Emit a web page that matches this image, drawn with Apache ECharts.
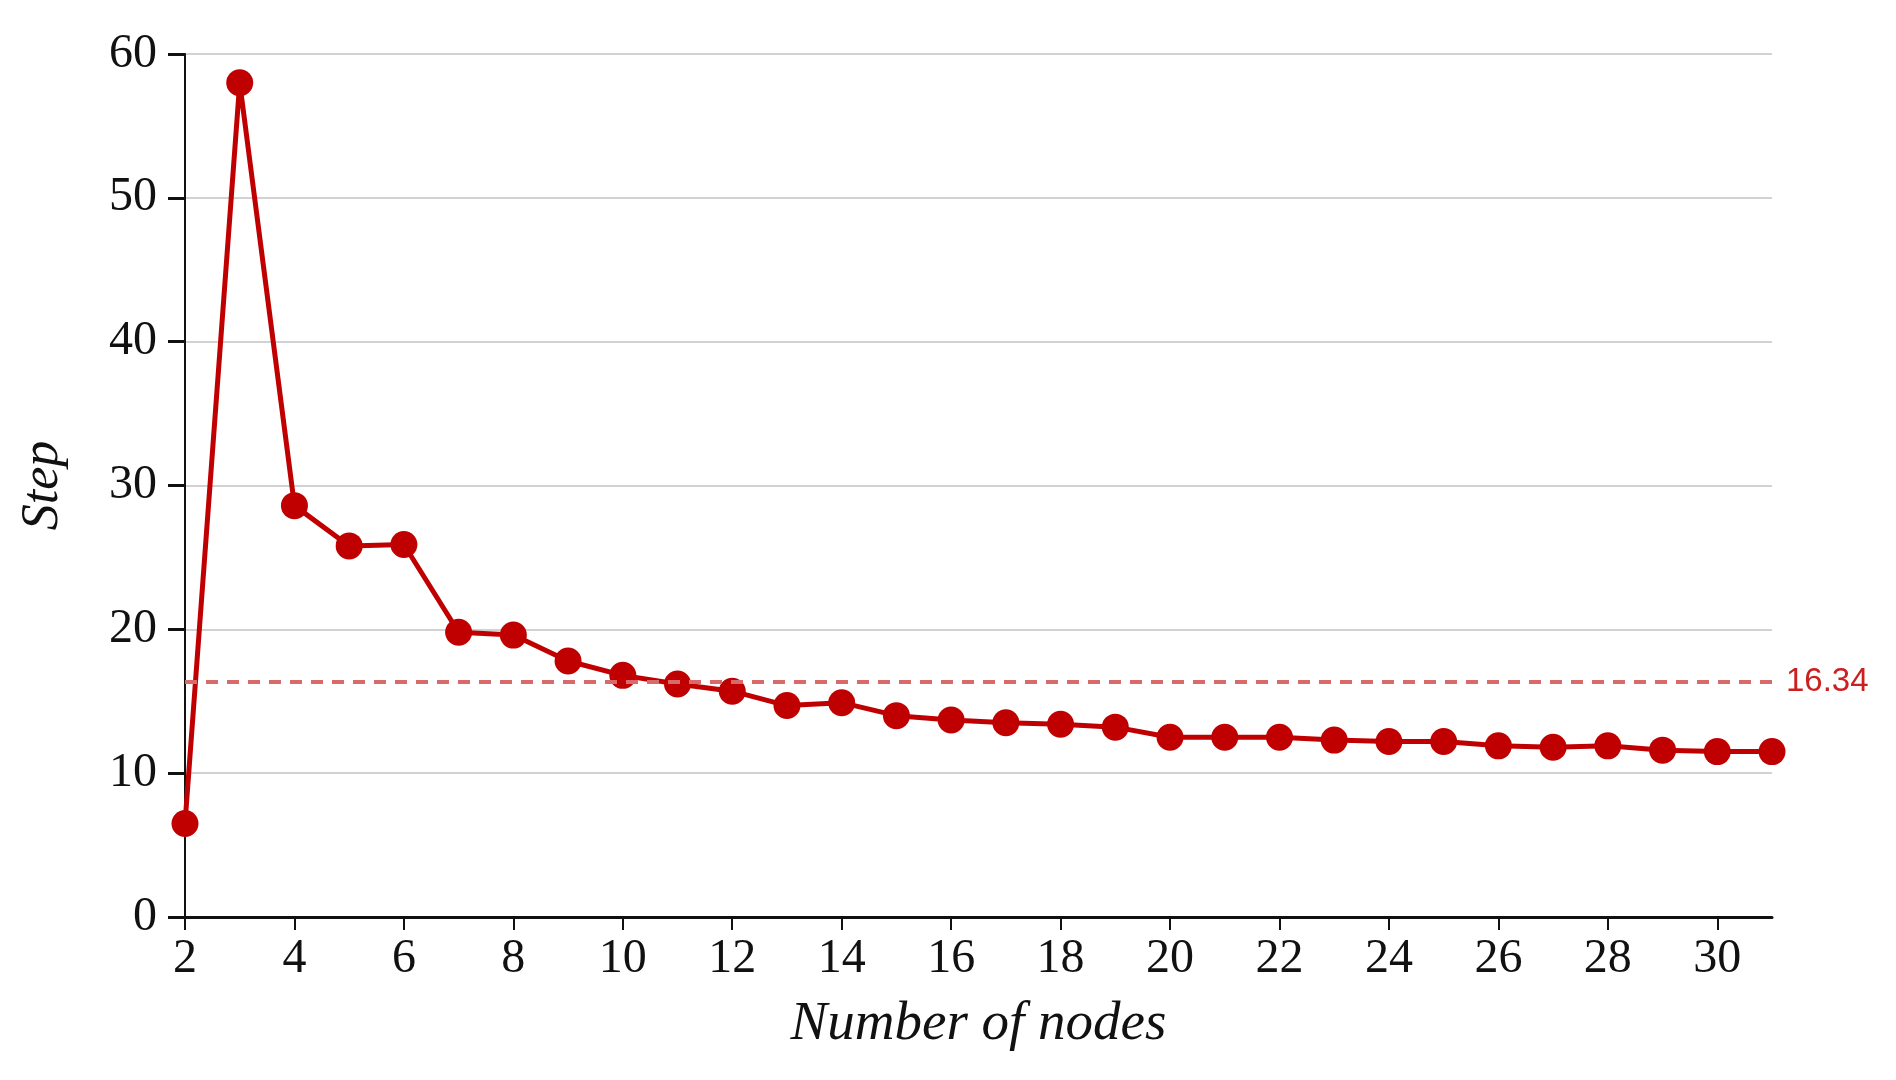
<!DOCTYPE html>
<html>
<head>
<meta charset="utf-8">
<script src="https://cdn.jsdelivr.net/npm/echarts@6/dist/echarts.min.js"></script>
<style>html,body{margin:0;padding:0;background:#fff;}#c{width:1896px;height:1080px;}</style>
</head>
<body>
<div id="c"></div>
<script>
const nodes = [2,3,4,5,6,7,8,9,10,11,12,13,14,15,16,17,18,19,20,21,22,23,24,25,26,27,28,29,30,31];
const steps = [6.5,58.0,28.6,25.8,25.9,19.8,19.6,17.8,16.8,16.2,15.7,14.7,14.9,14.0,13.7,13.5,13.4,13.2,12.5,12.5,12.5,12.3,12.2,12.2,11.9,11.8,11.9,11.6,11.5,11.5];
const xTicks = [2,4,6,8,10,12,14,16,18,20,22,24,26,28,30];
const meanValue = 16.34;
const xName = 'Number of nodes';
const yName = 'Step';

const chart = echarts.init(document.getElementById('c'), null, {renderer:'canvas'});
const serif = 'Liberation Serif';
chart.setOption({
  animation: false,
  backgroundColor: '#fff',
  grid: {left: 185, right: 124, top: 54, bottom: 163},
  xAxis: {
    type: 'value', min: 2, max: 31, interval: 2,
    name: xName, nameLocation: 'middle', nameGap: 80,
    nameTextStyle: {fontFamily: serif, fontStyle: 'italic', fontSize: 55, color: '#111'},
    axisLine: {show: true, onZero: false, lineStyle: {color: '#111', width: 3}},
    axisTick: {show: true, length: 13, lineStyle: {color: '#111', width: 2}, customValues: xTicks},
    axisLabel: {fontFamily: serif, fontSize: 48, color: '#111', margin: 18, customValues: xTicks},
    splitLine: {show: false}
  },
  yAxis: {
    type: 'value', min: 0, max: 60, interval: 10,
    name: yName, nameLocation: 'middle', nameGap: 116,
    nameTextStyle: {fontFamily: serif, fontStyle: 'italic', fontSize: 52, color: '#111'},
    axisLine: {show: true, lineStyle: {color: '#111', width: 2}},
    axisTick: {show: true, length: 17, lineStyle: {color: '#111', width: 3}},
    axisLabel: {fontFamily: serif, fontSize: 48, color: '#111', margin: 28},
    splitLine: {show: true, lineStyle: {color: '#d2d2d2', width: 2}}
  },
  series: [{
    type: 'line',
    data: nodes.map((n, i) => [n, steps[i]]),
    symbol: 'circle', symbolSize: 27,
    lineStyle: {color: '#c00000', width: 5},
    itemStyle: {color: '#c00000'},
    clip: false,
    markLine: {
      silent: true,
      symbol: ['none', 'none'],
      data: [{yAxis: meanValue}],
      lineStyle: {color: '#d86a6c', type: [12, 9], width: 4},
      label: {show: true, position: 'end', distance: 14, formatter: String(meanValue),
              color: '#cc1f1f', fontFamily: 'Liberation Sans', fontSize: 33}
    }
  }]
});
</script>
</body>
</html>
